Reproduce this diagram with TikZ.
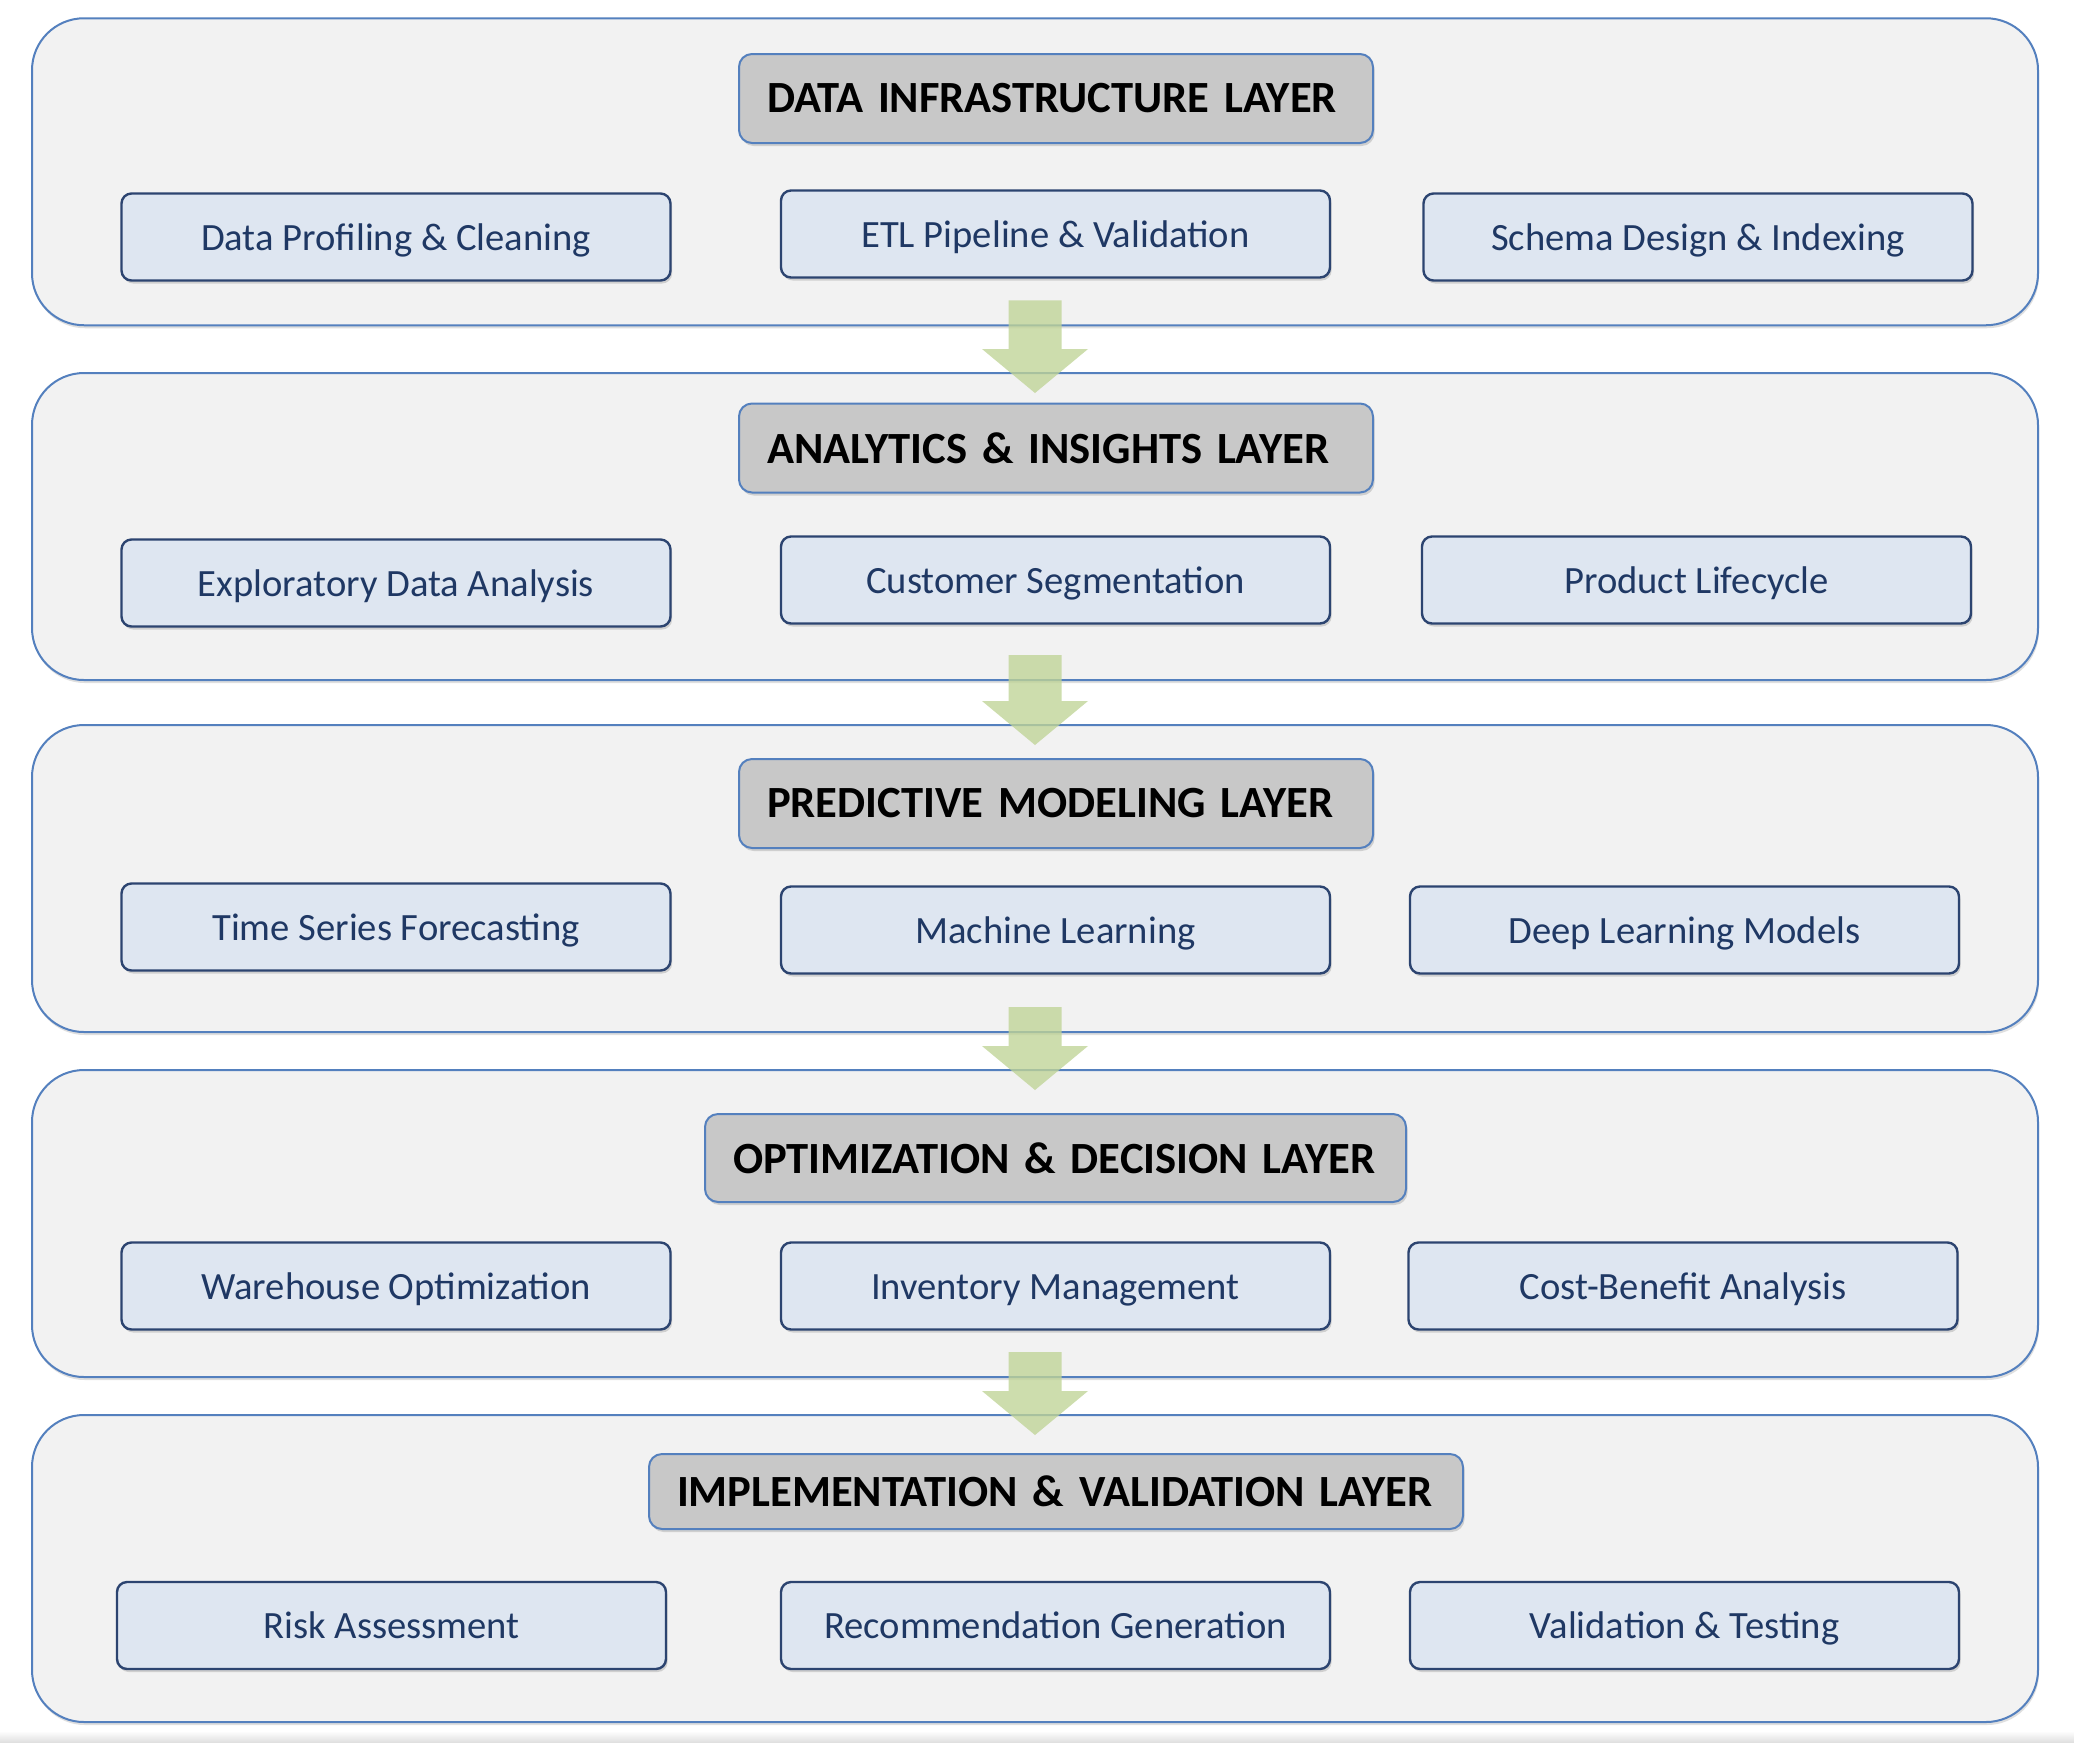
\documentclass[tikz,border=0pt]{standalone}
\usepackage{fontspec}
\setmainfont{Carlito}
\newfontfamily\ttlfam[WordSpace=0.7]{Carlito}
\usetikzlibrary{shadows,calc}
\definecolor{layerfill}{RGB}{242,242,242}
\definecolor{layerline}{RGB}{84,128,190}
\definecolor{titlefill}{RGB}{200,200,200}
\definecolor{subfill}{RGB}{222,230,241}
\definecolor{subline}{RGB}{44,68,112}
\definecolor{subtext}{RGB}{31,56,100}
\definecolor{arrowfill}{RGB}{192,212,150}
\newcommand\blockarrow[2]{%
  \fill[arrowfill, opacity=0.78]
    ($(#1.south)+(-26.5,-26)$) -- ($(#1.south)+(26.5,-26)$) --
    ($(#2.north)+(26.5,-23)$) -- ($(#2.north)+(53,-23)$) --
    ($(#2.north)+(0,21)$) -- ($(#2.north)+(-53,-23)$) --
    ($(#2.north)+(-26.5,-23)$) -- cycle;}
\newcommand\ttlfont{\ttlfam\fontsize{22.3}{26}\selectfont\bfseries}
\tikzset{
  layerbox/.style={draw=layerline, line width=1pt, fill=layerfill, rounded corners=26pt,
    minimum width=1003pt, minimum height=153.5pt, inner sep=0pt,
    drop shadow={shadow xshift=0.5pt, shadow yshift=-1.5pt, opacity=0.25, fill=black!50}},
  titlebox/.style={draw=layerline, line width=1pt, fill=titlefill, rounded corners=6.5pt,
    minimum height=44.5pt, inner xsep=14pt, inner ysep=0pt, align=left,
    font=\ttlfont, text=black,
    drop shadow={shadow xshift=0.8pt, shadow yshift=-1.5pt, opacity=0.3, fill=black!50}},
  subbox/.style={draw=subline, line width=1.2pt, fill=subfill, rounded corners=5pt,
    minimum width=274.5pt, minimum height=43.5pt, inner sep=0pt,
    text height=14pt, text depth=1pt,
    font=\fontsize{19.3}{22}\selectfont, text=subtext,
    drop shadow={shadow xshift=0.8pt, shadow yshift=-1.5pt, opacity=0.3, fill=black!50}}
}
\begin{document}
\begin{tikzpicture}[x=0.5pt,y=-0.5pt]
\useasboundingbox (0,0) rectangle (2074,1742);
\fill[white] (0,0) rectangle (2074,1742);
\shade[top color=white, bottom color=black!12] (0,1731) rectangle (2074,1742);

% layers
\node[layerbox] (L1) at (1035,171.75) {};
\node[layerbox] (L2) at (1035,526.5) {};
\node[layerbox] (L3) at (1035,878.5) {};
\node[layerbox] (L4) at (1035,1223.5) {};
\node[layerbox] (L5) at (1035,1568.5) {};

% flow arrows
\blockarrow{L1}{L2}
\blockarrow{L2}{L3}
\blockarrow{L3}{L4}
\blockarrow{L4}{L5}

% titles
\node[titlebox, text width=289pt] (T1) at (1056,98.5) {\mbox{DATA INFRASTRUCTURE LAYER}};
\node[titlebox, text width=289pt] (T2) at (1056,448) {\mbox{ANALYTICS \& INSIGHTS LAYER}};
\node[titlebox, text width=289pt] (T3) at (1056,803.5) {\mbox{PREDICTIVE MODELING LAYER}};
\node[titlebox, text width=322.5pt, minimum height=44pt] (T4) at (1055.5,1158) {\mbox{OPTIMIZATION \& DECISION LAYER}};
\node[titlebox, text width=379pt, minimum height=37.5pt] (T5) at (1056,1491.5) {\mbox{IMPLEMENTATION \& VALIDATION LAYER}};

% row 1
\node[subbox] (A1) at (396,237) {Data Profiling \& Cleaning};
\node[subbox] (A2) at (1055.5,234) {ETL Pipeline \& Validation};
\node[subbox] (A3) at (1698,237) {Schema Design \& Indexing};
% row 2
\node[subbox] (B1) at (396,583) {Exploratory Data Analysis};
\node[subbox] (B2) at (1055.5,580) {Customer Segmentation};
\node[subbox] (B3) at (1696.5,580) {Product Lifecycle};
% row 3
\node[subbox] (C1) at (396,927) {Time Series Forecasting};
\node[subbox] (C2) at (1055.5,930) {Machine Learning};
\node[subbox] (C3) at (1684.5,930) {Deep Learning Models};
% row 4
\node[subbox] (D1) at (396,1286) {Warehouse Optimization};
\node[subbox] (D2) at (1055.5,1286) {Inventory Management};
\node[subbox] (D3) at (1683,1286) {Cost-Benefit Analysis};
% row 5
\node[subbox] (E1) at (391.5,1625.5) {Risk Assessment};
\node[subbox] (E2) at (1055.5,1625.5) {Recommendation Generation};
\node[subbox] (E3) at (1684.5,1625.5) {Validation \& Testing};
\end{tikzpicture}
\end{document}
